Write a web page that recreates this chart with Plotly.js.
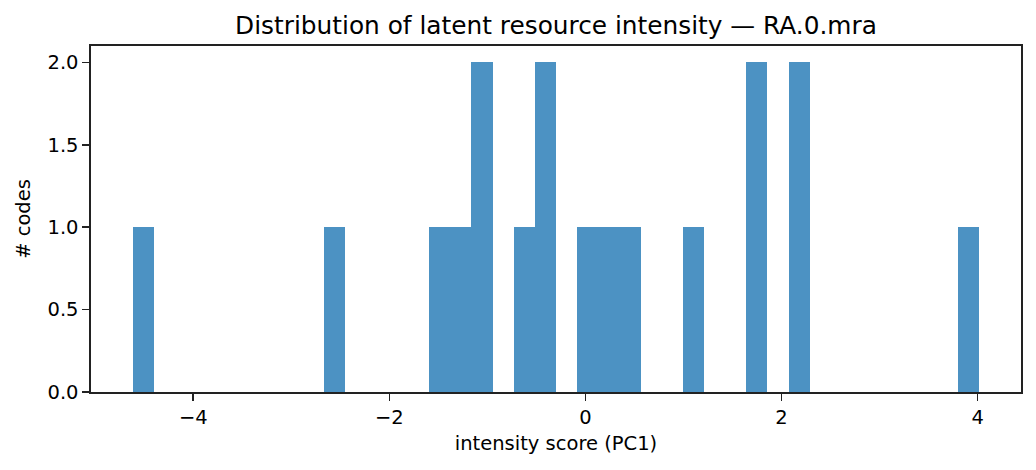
<!DOCTYPE html>
<html>
<head>
<meta charset="utf-8">
<script src="https://cdn.plot.ly/plotly-3.0.1.min.js"></script>
<style>html,body{margin:0;padding:0;background:#fff}#chart{width:1036px;height:470px}</style>
</head>
<body>
<div id="chart"></div>
<script>
// PC1 intensity scores of the codes
const scores = [-4.61, -2.57, -1.49, -1.27, -1.06, -1.04, -0.62, -0.42, -0.40,
                 0.02, 0.24, 0.45, 1.10, 1.74, 1.76, 2.17, 2.19, 4.00];
const binStart = -4.612;
const binEnd = 4.011;
const nBins = 40;
const xTicks = [-4, -2, 0, 2, 4];
const xTickText = ['\u22124', '\u22122', '0', '2', '4'];
const yTicks = [0, 0.5, 1.0, 1.5, 2.0];
const yTickText = ['0.0', '0.5', '1.0', '1.5', '2.0'];

const span = binEnd - binStart;
const trace = {
  type: 'histogram',
  x: scores,
  xbins: {start: binStart, end: binEnd + 1e-6, size: span / nBins},
  marker: {color: 'rgba(31,119,180,0.8)', line: {width: 0}},
  hoverinfo: 'x+y'
};

const font = {family: 'DejaVu Sans, sans-serif', color: '#000'};
const layout = {
  width: 1036, height: 470,
  margin: {l: 91, r: 15, t: 46, b: 78},
  paper_bgcolor: '#fff', plot_bgcolor: '#fff',
  bargap: 0,
  showlegend: false,
  title: {text: 'Distribution of latent resource intensity \u2014 RA.0.mra',
          font: Object.assign({size: 24.8}, font), x: 0.5, xref: 'paper', y: 1, yref: 'paper', yanchor: 'bottom', pad: {b: 12}},
  xaxis: {
    range: [binStart - 0.05 * span, binEnd + 0.05 * span],
    tickvals: xTicks, ticktext: xTickText,
    ticks: 'outside', ticklen: 7, tickwidth: 1.6, tickcolor: '#222',
    showgrid: false, zeroline: false,
    showline: true, linecolor: '#222', linewidth: 1.6, mirror: true,
    tickfont: Object.assign({size: 19.5}, font),
    title: {text: 'intensity score (PC1)', font: Object.assign({size: 19.5}, font), standoff: 8}
  },
  yaxis: {
    range: [0, 2.1],
    tickvals: yTicks, ticktext: yTickText,
    ticks: 'outside', ticklen: 7, tickwidth: 1.6, tickcolor: '#222',
    showgrid: false, zeroline: false,
    showline: true, linecolor: '#222', linewidth: 1.6, mirror: true,
    tickfont: Object.assign({size: 19.5}, font),
    title: {text: '# codes', font: Object.assign({size: 19.5}, font), standoff: 11}
  }
};
Plotly.newPlot('chart', [trace], layout, {displayModeBar: false, staticPlot: true});
</script>
</body>
</html>
